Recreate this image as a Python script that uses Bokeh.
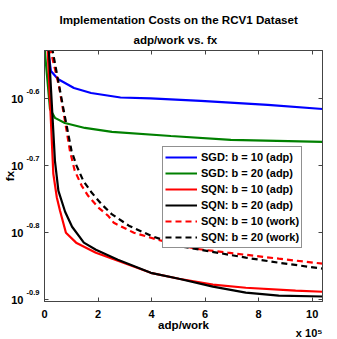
from bokeh.plotting import figure
from bokeh.models import (Range1d, FixedTicker, LinearAxis, LogAxis, Title,
                          CustomJSTickFormatter)
from bokeh.embed import file_html
from bokeh.resources import INLINE

# ---------------- data (x = adp/work, y = fx) ----------------
sgd10_x = [0, 0.24e5, 0.50e5, 1.10e5, 1.74e5, 2.84e5, 3.96e5, 5.84e5, 8.34e5, 10.39e5]
sgd10_fx = [0.3255, 0.2766, 0.2691, 0.2609, 0.2564, 0.2525, 0.2517, 0.2495, 0.2461, 0.2427]

sgd20_x = [0, 0.205e5, 0.39e5, 0.76e5, 1.51e5, 2.52e5, 4.72e5, 6.96e5, 10.39e5]
sgd20_fx = [0.300, 0.2427, 0.2354, 0.2313, 0.2274, 0.2243, 0.2212, 0.2183, 0.2168]

sqn10_x = [0, 0.33e5, 0.46e5, 0.58e5, 0.80e5, 1.18e5, 1.92e5, 2.74e5, 3.97e5,
           5.02e5, 6.29e5, 7.52e5, 9.38e5, 10.39e5]
sqn10_fx = [0.378, 0.1942, 0.1791, 0.1711, 0.1586, 0.1533, 0.1481, 0.1441, 0.1382,
            0.1354, 0.1327, 0.1313, 0.1300, 0.1295]

sqn20_x = [0, 0.39e5, 0.52e5, 0.77e5, 1.03e5, 1.47e5, 1.92e5, 2.74e5, 3.97e5,
           5.02e5, 6.29e5, 7.52e5, 8.75e5, 10.39e5]
sqn20_fx = [0.389, 0.2031, 0.1832, 0.1705, 0.1619, 0.1533, 0.1496, 0.1446, 0.1382,
            0.1354, 0.1318, 0.1291, 0.1278, 0.1274]

sqn10w_x = [0.20e5, 0.54e5, 0.765e5, 0.95e5, 1.13e5, 1.39e5, 1.63e5, 2.01e5, 2.38e5,
            2.59e5, 3.34e5, 4.24e5, 5.65e5, 6.85e5, 8.75e5, 10.39e5]
sqn10w_fx = [0.300, 0.2627, 0.2329, 0.2102, 0.1963, 0.1864, 0.1801, 0.1730, 0.1681,
             0.1641, 0.1586, 0.1548, 0.1501, 0.1481, 0.1451, 0.1426]

sqn20w_x = [0.28e5, 0.70e5, 0.83e5, 1.01e5, 1.20e5, 1.45e5, 1.76e5, 2.13e5, 2.51e5,
            3.15e5, 3.97e5, 5.20e5, 7.52e5, 8.75e5, 10.39e5]
sqn20w_fx = [0.300, 0.2436, 0.2289, 0.2102, 0.1996, 0.1896, 0.1821, 0.1750, 0.1691,
             0.1625, 0.1570, 0.1511, 0.1456, 0.1431, 0.1402]

series_labels = ["SGD: b = 10 (adp)", "SGD: b = 20 (adp)", "SQN: b = 10 (adp)",
                 "SQN: b = 20 (adp)", "SQN: b = 10 (work)", "SQN: b = 20 (work)"]

xtick_vals = [0, 2e5, 4e5, 6e5, 8e5, 10e5]
x_multiplier_text = "x 10\u2075\u00a0\u00a0"
ytick_exps = [-0.9, -0.8, -0.7, -0.6]
ytick_base = "10"
ytick_sup = ["-0.9", "-0.8", "-0.7", "-0.6"]

title1 = "Implementation Costs on the RCV1 Dataset"
title2 = "adp/work vs. fx"
xlabel = "adp/work"
ylabel = "fx"

# ---------------- figure ----------------
FONT = "Liberation Sans"
AX = "#444444"

p = figure(width=337, height=339, y_axis_type="log",
           x_range=Range1d(0, 10.385e5),
           y_range=Range1d(10 ** -0.9023, 10 ** -0.5276),
           output_backend="svg", toolbar_location=None,
           min_border_left=44, min_border_right=15,
           min_border_top=50, min_border_bottom=38)
p.title_location = None
p.xgrid.visible = False
p.ygrid.visible = False
p.outline_line_color = AX
p.outline_line_width = 1
p.background_fill_color = "white"
p.border_fill_color = "white"

yticks = [10 ** e for e in ytick_exps]
blank = CustomJSTickFormatter(code="return ''")


def style_frame_axis(ax):
    ax.major_tick_in = 4
    ax.major_tick_out = 0
    ax.minor_tick_line_color = None
    ax.axis_line_color = AX
    ax.major_tick_line_color = AX


# bottom axis: tick labels (last one carries the multiplier) and axis label
xa = p.xaxis[0]
xa.ticker = FixedTicker(ticks=xtick_vals)
xa.formatter = CustomJSTickFormatter(
    args=dict(scale=1e5, last=xtick_vals[-1], mult=x_multiplier_text),
    code="""
    const v = Math.round(tick / scale);
    return (Math.abs(tick - last) < 1) ? (String(v) + "\\n" + mult) : String(v);
    """)
style_frame_axis(xa)
xa.major_label_text_font = FONT
xa.major_label_text_font_style = "bold"
xa.major_label_text_font_size = "11px"
xa.major_label_text_color = "black"
xa.major_label_text_line_height = 1.65
xa.major_label_standoff = 6
xa.axis_label = xlabel
xa.axis_label_text_font = FONT
xa.axis_label_text_font_style = "bold"
xa.axis_label_text_font_size = "11.6px"
xa.axis_label_text_color = "black"
xa.axis_label_standoff = -24

# left axis A (nearest the frame): exponent superscripts, raised by an empty 2nd line
ya = p.yaxis[0]
ya.ticker = FixedTicker(ticks=yticks)
ya.formatter = CustomJSTickFormatter(args=dict(labs=ytick_sup, tvals=yticks), code="""
    let best = 0;
    for (let i = 0; i < tvals.length; i++) {
        if (Math.abs(tvals[i] - tick) < Math.abs(tvals[best] - tick)) best = i;
    }
    return labs[best] + "\\n ";
""")
style_frame_axis(ya)
ya.major_label_text_font = FONT
ya.major_label_text_font_style = "bold"
ya.major_label_text_font_size = "7.5px"
ya.major_label_text_color = "black"
ya.major_label_text_line_height = 1.6
ya.major_label_standoff = 5

# left axis B (outer): the "10" bases and the axis title
yb = LogAxis(ticker=FixedTicker(ticks=yticks),
             formatter=CustomJSTickFormatter(args=dict(base=ytick_base), code="return base"),
             major_tick_in=0, major_tick_out=0, minor_tick_line_color=None,
             axis_line_color=None, major_tick_line_color=None,
             major_label_standoff=0, major_label_text_font=FONT,
             major_label_text_font_style="bold", major_label_text_font_size="11px",
             major_label_text_color="black",
             axis_label=ylabel, axis_label_standoff=-8, axis_label_text_font=FONT,
             axis_label_text_font_style="bold", axis_label_text_font_size="11.6px",
             axis_label_text_color="black")
p.add_layout(yb, "left")

# box ticks on top and right
top = LinearAxis(ticker=FixedTicker(ticks=xtick_vals), formatter=blank,
                 major_label_standoff=0, major_label_text_font_size="0px")
style_frame_axis(top)
p.add_layout(top, "above")
right = LogAxis(ticker=FixedTicker(ticks=yticks), formatter=blank,
                major_label_standoff=0, major_label_text_font_size="0px")
style_frame_axis(right)
p.add_layout(right, "right")

# titles (first added sits nearest the frame)
p.add_layout(Title(text=title2, align="left", offset=89, standoff=10,
                   text_font=FONT, text_font_style="bold", text_font_size="11.6px",
                   text_color="black"), "above")
p.add_layout(Title(text=title1, align="left", offset=15, standoff=0,
                   text_font=FONT, text_font_style="bold", text_font_size="11.6px",
                   text_color="black"), "above")

# ---------------- lines ----------------
LW = 2.2
p.line(sgd10_x, sgd10_fx, line_color="#0000FF", line_width=LW, legend_label=series_labels[0])
p.line(sgd20_x, sgd20_fx, line_color="#008000", line_width=LW, legend_label=series_labels[1])
p.line(sqn10_x, sqn10_fx, line_color="#FF0000", line_width=LW, legend_label=series_labels[2])
p.line(sqn20_x, sqn20_fx, line_color="#000000", line_width=LW, legend_label=series_labels[3])
p.line(sqn10w_x, sqn10w_fx, line_color="#FF0000", line_width=LW, line_dash="6 4",
       legend_label=series_labels[4])
p.line(sqn20w_x, sqn20w_fx, line_color="#000000", line_width=LW, line_dash="6 4",
       legend_label=series_labels[5])

lg = p.legend[0]
lg.location = (118, 53)
lg.margin = 0
lg.padding = 2
lg.spacing = 0
lg.label_height = 16
lg.glyph_height = 16
lg.glyph_width = 32
lg.label_standoff = 4
lg.label_text_font = FONT
lg.label_text_font_style = "bold"
lg.label_text_font_size = "11px"
lg.label_text_color = "black"
lg.border_line_color = "#222222"
lg.border_line_width = 1
lg.background_fill_color = "white"
lg.background_fill_alpha = 1.0

open("out.html", "w").write(file_html(p, INLINE))
